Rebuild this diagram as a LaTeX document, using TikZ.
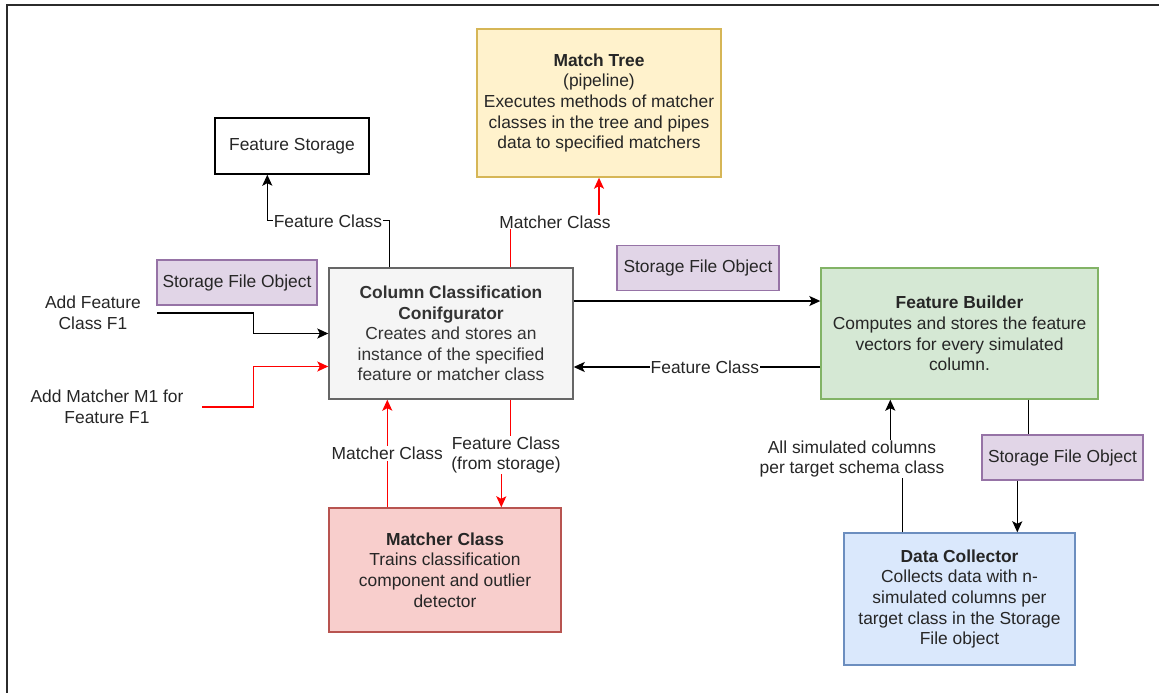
\documentclass[tikz,border=0pt]{standalone}
\usepackage{fontspec}
\setmainfont{Liberation Sans}
\usetikzlibrary{arrows.meta,calc}
\definecolor{txt}{HTML}{262626}
\definecolor{ccctxt}{HTML}{333333}
\definecolor{mtfill}{HTML}{FFF2CC}\definecolor{mtline}{HTML}{D6B656}
\definecolor{sfofill}{HTML}{E1D5E7}\definecolor{sfoline}{HTML}{9673A6}
\definecolor{cccfill}{HTML}{F5F5F5}\definecolor{cccline}{HTML}{666666}
\definecolor{fbfill}{HTML}{D5E8D4}\definecolor{fbline}{HTML}{82B366}
\definecolor{mcfill}{HTML}{F8CECC}\definecolor{mcline}{HTML}{B85450}
\definecolor{dcfill}{HTML}{DAE8FC}\definecolor{dcline}{HTML}{6C8EBF}
\definecolor{redline}{HTML}{FF0000}
\definecolor{frame}{HTML}{2B2B2B}
\begin{document}
\begin{tikzpicture}[x=1pt,y=-1pt,
  every node/.style={font=\fontsize{17.4}{20.6}\selectfont, text=txt},
  box/.style={draw, line width=1.4pt, align=center, inner sep=2pt},
  plain/.style={box, draw=black, fill=white},
  mtbox/.style={box, draw=mtline, fill=mtfill},
  sfobox/.style={box, draw=sfoline, fill=sfofill, minimum height=45pt},
  cccbox/.style={box, draw=cccline, fill=cccfill, text=ccctxt},
  fbbox/.style={box, draw=fbline, fill=fbfill},
  mcbox/.style={box, draw=mcline, fill=mcfill},
  dcbox/.style={box, draw=dcline, fill=dcfill},
  lbl/.style={fill=white, inner sep=1pt, align=center},
  freetext/.style={align=center, inner sep=0pt},
  conn/.style={line width=1.3pt, draw=black},
  arrowconn/.style={conn, -{Stealth[length=11pt,width=10pt,inset=2.5pt]}},
  redconn/.style={line width=1.3pt, draw=redline, -{Stealth[length=11pt,width=10pt,inset=2.5pt]}},
]
\useasboundingbox (0,0) rectangle (1159,693);
\draw[line width=1.8pt, frame] (7,693) -- (7,5) -- (1159,5);

% boxes
\node[plain, minimum width=154pt, minimum height=56pt] (fs) at (292,146) {Feature Storage};
\node[mtbox, minimum width=244pt, minimum height=148pt] (mt) at (599,103)
  {\textbf{Match Tree}\\(pipeline)\\Executes methods of matcher\\classes in the tree and pipes\\data to specified matchers};
\node[sfobox, minimum width=160pt] (sfo1) at (237,282.5) {Storage File Object};
\node[cccbox, minimum width=244pt, minimum height=131pt] (ccc) at (451,333.5)
  {\textbf{Column Classification}\\\textbf{Conifgurator}\\Creates and stores an\\instance of the specified\\feature or matcher class};
\node[sfobox, minimum width=162pt] (sfo2) at (698,268) {Storage File Object};
\node[fbbox, minimum width=277pt, minimum height=131pt] (fb) at (959.5,333.5)
  {\textbf{Feature Builder}\\Computes and stores the feature\\vectors for every simulated\\column.};
\node[sfobox, minimum width=161pt] (sfo3) at (1062.5,457.5) {Storage File Object};
\node[mcbox, minimum width=232pt, minimum height=124pt] (mc) at (445,570)
  {\textbf{Matcher Class}\\Trains classification\\component and outlier\\detector};
\node[dcbox, minimum width=231pt, minimum height=132pt] (dc) at (959.5,599)
  {\textbf{Data Collector}\\Collects data with n-\\simulated columns per\\target class in the Storage\\File object};

% free texts
\node[freetext, minimum width=128pt] (addf) at (93,313) {Add Feature\\Class F1};
\node[freetext, minimum width=190pt] (addm) at (107,407) {Add Matcher M1 for\\Feature F1};

% connectors
\draw[arrowconn] ([xshift=61pt]ccc.north west) -- ++(0,-47) -| ([xshift=53pt]fs.south west);
\node[lbl] (l1) at (328,221) {Feature Class};

\draw[redconn] ([xshift=182pt]ccc.north west) -- ++(0,-46) -| (mt.south);
\node[lbl] (l2) at (555,222) {Matcher Class};

\draw[arrowconn] ([yshift=32.5pt]ccc.east) coordinate (a1) -- (a1 -| fb.west);
\draw[arrowconn] ([yshift=-33.5pt]fb.west) coordinate (a2) -- (a2 -| ccc.east)
  node[pos=0.468, lbl] (l3) {Feature Class};

\draw[arrowconn] (addf.east) -- ++(96,0) |- (ccc.west);
\draw[redconn] (addm.east) -- ++(51,0) |- ([yshift=-33pt]ccc.west);

\draw[redconn] ([xshift=59pt]mc.north west) coordinate (b1) -- (b1 |- ccc.south)
  node[pos=0.5, lbl] (l4) {Matcher Class};
\draw[redconn] ([xshift=182pt]ccc.south west) -- ++(0,56) -| ([xshift=173pt]mc.north west);
\node[lbl] (l5) at (506,455) {Feature Class\\(from storage)};

\draw[arrowconn] ([xshift=59pt]dc.north west) -- ++(0,-74) -| ([xshift=70pt]fb.south west);
\node[lbl] (l6) at (852,459) {All simulated columns\\per target schema class};

\draw[conn] ([xshift=208pt]fb.south west) coordinate (c1) -- (c1 |- sfo3.north);
\draw[arrowconn] ([xshift=36pt]sfo3.south west) coordinate (c2) -- (c2 |- dc.north);
\end{tikzpicture}
\end{document}
